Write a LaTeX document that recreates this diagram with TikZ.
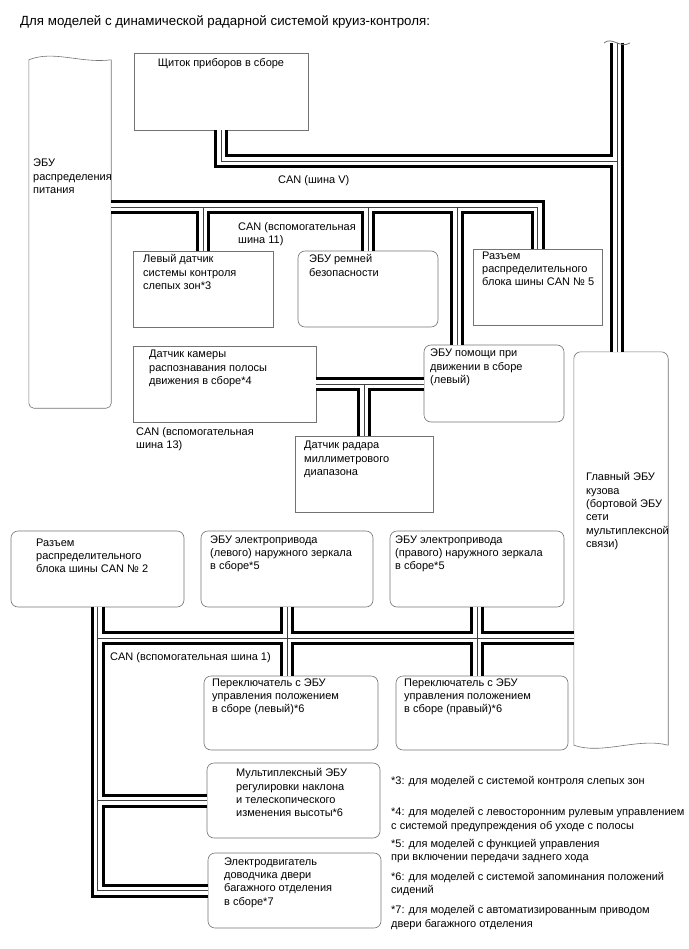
\documentclass[tikz,border=0pt]{standalone}
\usepackage{fontspec}
\setmainfont{Liberation Sans}

\begin{document}
\begin{tikzpicture}[x=1pt,y=-1pt,font=\fontsize{11}{13.3}\selectfont]
\tikzstyle{bx}=[draw=black!55,line width=0.6pt,inner sep=0pt,minimum height=76pt]
\tikzstyle{rbx}=[bx,rounded corners=7pt]
\tikzstyle{ol}=[draw=black!55,line width=0.6pt]
\tikzstyle{tx}=[anchor=north west,align=left,inner sep=0pt]
\useasboundingbox (0,0) rectangle (688,949);

\node[tx,font=\fontsize{13.3}{15}\selectfont] (title) at (20,15) {Для моделей с динамической радарной системой круиз-контроля:};

% blocks on CAN V, CAN 11 and CAN 13
\node[bx,minimum width=174pt,minimum height=77pt] (meter) at (221,91.5) {};
\node[minimum width=82pt,minimum height=348pt,inner sep=0pt] (pdecu) at (70,234) {};
\node[bx,minimum width=140pt] (bsm) at (203,289) {};
\node[rbx,minimum width=140pt] (belt) at (368,289) {};
\node[bx,minimum width=129pt] (jc5) at (537.5,287) {};
\node[rbx,minimum width=140pt,minimum height=77pt] (dss) at (494,383.5) {};
\node[bx,minimum width=183pt] (lkacam) at (224.5,384) {};
\node[bx,minimum width=138pt] (mmw) at (364,474) {};
\node[minimum width=94pt,minimum height=393pt,inner sep=0pt] (body) at (621,548.5) {};
% blocks on CAN 1
\node[rbx,minimum width=173pt] (jc2) at (97.5,569) {};
\node[rbx,minimum width=172pt] (mirl) at (287,569) {};
\node[rbx,minimum width=174pt] (mirr) at (477,569) {};
\node[rbx,minimum width=174pt,minimum height=74pt] (swl) at (291,713) {};
\node[rbx,minimum width=172pt,minimum height=74pt] (swr) at (482,713) {};
\node[rbx,minimum width=173pt,minimum height=75pt] (tilt) at (293.5,800.5) {};
\node[rbx,minimum width=173pt,minimum height=75pt] (bdoor) at (294.5,890.5) {};

% cut-off outlines
\draw[ol,rounded corners=5pt] (pdecu.north east) -- (pdecu.south east) -- (pdecu.south west) -- (pdecu.north west);
\draw[ol] (pdecu.north west) .. controls +(25,-10) and +(-30,4) .. (pdecu.north east);
\draw[ol,rounded corners=7pt] (body.south west) -- (body.north west) -- (body.north east) -- (body.south east);
\draw[ol] (body.south west) .. controls +(28,10) and +(-30,-8) .. (body.south east);

\coordinate (vtop) at (617,43);
\coordinate (vj) at (617,161);
\coordinate (c11) at (457,207);
\coordinate (c1) at (96,638);

% bus lines: black, white gap, thin centre line
\foreach \w/\c in {14/black,8/white,0.9/black!75}{
  \begin{scope}[line width=\w pt,color=\c]
  \draw (vtop) -- (vtop |- body.north);
  \draw (meter.south) |- (vj);
  \draw (pdecu.east |- c11) -| (jc5.north);
  \draw (bsm.north |- c11) -- (bsm.north);
  \draw (belt.north |- c11) -- (belt.north);
  \draw (c11) -- (c11 |- dss.north);
  \draw (lkacam.east) -- (lkacam.east -| dss.west);
  \draw (mmw.north |- lkacam.east) -- (mmw.north);
  \draw (jc2.south) |- (bdoor.west);
  \draw (jc2.south |- c1) -- (body.west |- c1);
  \draw (jc2.south |- tilt.west) -- (tilt.west);
  \draw (mirl.south) -- (mirl.south |- swl.north);
  \draw (mirr.south) -- (mirr.south |- swr.north);
  \end{scope}
}
\draw[ol,line width=0.8pt] ([xshift=-13pt]vtop) .. controls +(8,-7) and +(-10,6) .. ([xshift=13pt]vtop);

% texts
\node[tx,anchor=north] (meter-t) at (221,58.5) {Щиток приборов в сборе};
\node[tx] (pdecu-t) at (33,159) {ЭБУ\\распределения\\питания};
\node[tx] (bsm-t) at (143,254.5) {Левый датчик\\системы контроля\\слепых зон*3};
\node[tx] (belt-t) at (309,254.5) {ЭБУ ремней\\безопасности};
\node[tx] (jc5-t) at (482,251.5) {Разъем\\распределительного\\блока шины CAN № 5};
\node[tx] (dss-t) at (430,349) {ЭБУ помощи при\\движении в сборе\\(левый)};
\node[tx] (lkacam-t) at (149,350) {Датчик камеры\\распознавания полосы\\движения в сборе*4};
\node[tx] (mmw-t) at (304,441) {Датчик радара\\миллиметрового\\диапазона};
\node[tx] (body-t) at (586,472.5) {Главный ЭБУ\\кузова\\(бортовой ЭБУ\\сети\\мультиплексной\\связи)};
\node[tx] (jc2-t) at (36,538.5) {Разъем\\распределительного\\блока шины CAN № 2};
\node[tx] (mirl-t) at (210,535.5) {ЭБУ электропривода\\(левого) наружного зеркала\\в сборе*5};
\node[tx] (mirr-t) at (395,535.5) {ЭБУ электропривода\\(правого) наружного зеркала\\в сборе*5};
\node[tx] (swl-t) at (212,678.5) {Переключатель с ЭБУ\\управления положением\\в сборе (левый)*6};
\node[tx] (swr-t) at (404,678.5) {Переключатель с ЭБУ\\управления положением\\в сборе (правый)*6};
\node[tx] (tilt-t) at (236,768.5) {Мультиплексный ЭБУ\\регулировки наклона\\и телескопического\\изменения высоты*6};
\node[tx] (bdoor-t) at (224,857.5) {Электродвигатель\\доводчика двери\\багажного отделения\\в сборе*7};
% bus names
\node[tx] (canv) at (278,175.5) {CAN (шина V)};
\node[tx] (can11) at (238,222.5) {CAN (вспомогательная\\шина 11)};
\node[tx] (can13) at (136,427.5) {CAN (вспомогательная\\шина 13)};
\node[tx] (can1) at (110,652.5) {CAN (вспомогательная шина 1)};
% notes
\node[tx] (n3) at (391,776.5) {*3: для моделей с системой контроля слепых зон};
\node[tx] (n4) at (391,807.5) {*4: для моделей с левосторонним рулевым управлением\\с системой предупреждения об уходе с полосы};
\node[tx] (n5) at (391,839) {*5: для моделей с функцией управления\\при включении передачи заднего хода};
\node[tx] (n6) at (391,872) {*6: для моделей с системой запоминания положений\\сидений};
\node[tx] (n7) at (391,905.5) {*7: для моделей с автоматизированным приводом\\двери багажного отделения};
\end{tikzpicture}
\end{document}
